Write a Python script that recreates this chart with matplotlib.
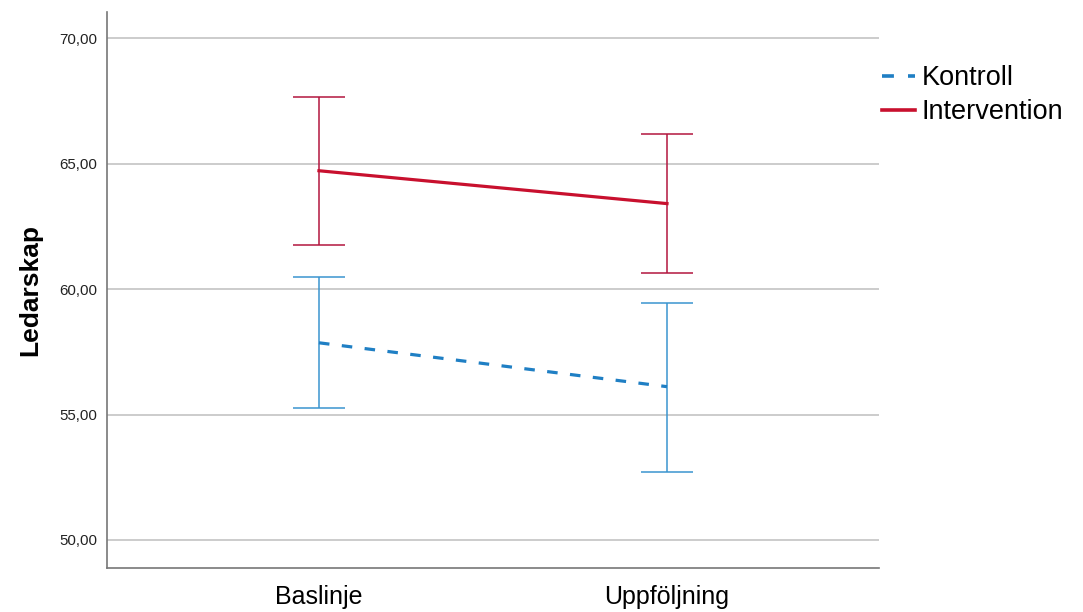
import matplotlib
matplotlib.use("Agg")
import matplotlib.pyplot as plt
from matplotlib.lines import Line2D

# Estimated marginal means of leadership score with 95% CI
time_points = ["Baslinje", "Uppföljning"]
groups = ["Kontroll", "Intervention"]

kontroll_mean = [57.86, 56.11]
kontroll_low = [55.26, 52.71]
kontroll_high = [60.49, 59.46]

intervention_mean = [64.72, 63.41]
intervention_low = [61.76, 60.64]
intervention_high = [67.66, 66.20]

y_ticks = [50, 55, 60, 65, 70]

plt.rcParams["font.family"] = ["Liberation Sans", "DejaVu Sans"]

fig = plt.figure(figsize=(10.83, 6.12), dpi=100)
ax = fig.add_axes([0.0988, 0.0719, 0.7128, 0.9085])

x = list(range(len(time_points)))

styles = {
    "Kontroll": dict(line="#1f7fc4", err="#3a95cf", ls=(0, (3.3, 3.9))),
    "Intervention": dict(line="#c8102e", err="#b3163f", ls="-"),
}
data = {
    "Kontroll": (kontroll_mean, kontroll_low, kontroll_high),
    "Intervention": (intervention_mean, intervention_low, intervention_high),
}

for g in groups:
    m, lo, hi = data[g]
    st = styles[g]
    yerr = [[mi - l for mi, l in zip(m, lo)], [h - mi for mi, h in zip(m, hi)]]
    ax.errorbar(x, m, yerr=yerr, fmt="none", ecolor=st["err"], elinewidth=1.1,
                capsize=18.7, capthick=1.1, zorder=3)
    ax.plot(x, m, color=st["line"], lw=2.3, linestyle=st["ls"], zorder=4)

ax.set_xlim(-0.609, 1.609)
ax.set_ylim(48.88, 71.05)
ax.set_xticks(x)
ax.set_xticklabels(time_points, fontsize=18)
ax.set_yticks(y_ticks)
ax.set_yticklabels([f"{v:.2f}".replace(".", ",") for v in y_ticks], fontsize=10.8,
                   color="#222222")
ax.tick_params(axis="both", length=0)
ax.tick_params(axis="y", pad=7)
ax.tick_params(axis="x", pad=12)
ax.grid(axis="y", color="#c4c4c4", lw=1.2, zorder=0)
ax.set_axisbelow(True)

for side in ("top", "right"):
    ax.spines[side].set_visible(False)
for side in ("left", "bottom"):
    ax.spines[side].set_color("#777777")
    ax.spines[side].set_linewidth(1.2)

ax.set_ylabel("Ledarskap", fontsize=19, fontweight="bold", labelpad=12)

handles = [Line2D([], [], color=styles[g]["line"], lw=2.6, linestyle=styles[g]["ls"])
           for g in groups]
fig.legend(handles, groups, loc="upper left", bbox_to_anchor=(0.8145, 0.8936),
           frameon=False, fontsize=19.5, handlelength=1.2, handletextpad=0.25,
           labelspacing=0.3, borderaxespad=0, borderpad=0)

fig.savefig("out.png", dpi=100)
